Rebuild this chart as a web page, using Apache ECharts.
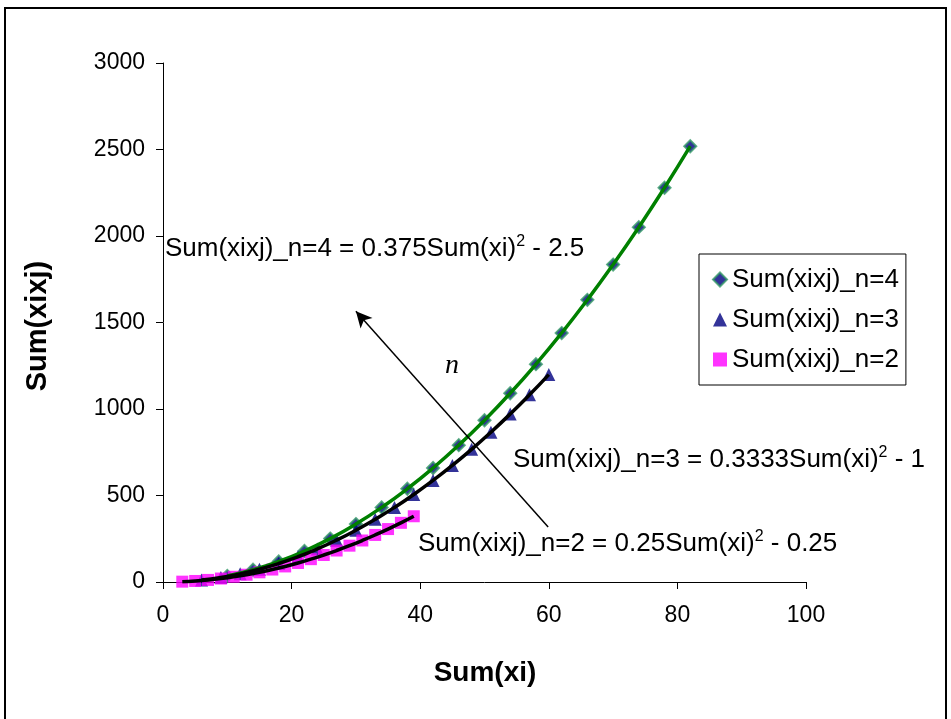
<!DOCTYPE html>
<html><head><meta charset="utf-8">
<script src="https://cdn.jsdelivr.net/npm/echarts@6/dist/echarts.min.js"></script>
<style>html,body{margin:0;padding:0;background:#fff}#c{width:951px;height:719px}</style>
</head><body><div id="c"></div>
<script>
// Data
var x_n2 = [3,5,7,9,11,13,15,17,19,21,23,25,27,29,31,33,35,37,39];
var y_n2 = [2,6,12,20,30,42,56,72,90,110,132,156,182,210,240,272,306,342,380];
var x_n3 = [6,9,12,15,18,21,24,27,30,33,36,39,42,45,48,51,54,57,60];
var y_n3 = [11,26,47,74,107,146,191,242,299,362,431,506,587,674,767,866,971,1082,1199];
var x_n4 = [10,14,18,22,26,30,34,38,42,46,50,54,58,62,66,70,74,78,82];
var y_n4 = [35,71,119,179,251,335,431,539,659,791,935,1091,1259,1439,1631,1835,2051,2279,2519];
var seriesNames = ['Sum(xixj)_n=4','Sum(xixj)_n=3','Sum(xixj)_n=2'];
var xTicks = [0,20,40,60,80,100];
var yTicks = [0,500,1000,1500,2000,2500,3000];

function pairs(xs, ys){ return xs.map(function(v,i){ return [v, ys[i]]; }); }

var FONT = 'Arial, "Liberation Sans", sans-serif';
var chart = echarts.init(document.getElementById('c'), null, {renderer:'canvas'});
var eqRich = {
  a: {fontFamily: FONT, fontSize: 26, color: '#000'},
  s: {fontFamily: FONT, fontSize: 16, color: '#000', padding: [0,0,13,0]}
};
var option = {
  animation: false,
  backgroundColor: '#fff',
  grid: {left: 163, right: 145, top: 63, bottom: 137},
  xAxis: {
    type: 'value', min: xTicks[0], max: xTicks[xTicks.length-1], interval: 20,
    axisLine: {lineStyle: {color: '#000', width: 1}},
    axisTick: {show: true, length: 7, lineStyle: {color: '#000'}},
    splitLine: {show: false},
    axisLabel: {fontFamily: FONT, fontSize: 23, color: '#000', margin: 22, formatter: function(v){ return String(v); }}
  },
  yAxis: {
    type: 'value', min: yTicks[0], max: yTicks[yTicks.length-1], interval: 500,
    axisLine: {show: true, lineStyle: {color: '#000', width: 1}},
    axisTick: {show: true, length: 7, lineStyle: {color: '#000'}},
    splitLine: {show: false},
    axisLabel: {fontFamily: FONT, fontSize: 23, color: '#000', margin: 18, formatter: function(v){ return String(v); }}
  },
  legend: {
    orient: 'vertical', left: 699, top: 254,
    data: seriesNames,
    padding: [11, 7, 11, 13],
    itemGap: 11, itemWidth: 14, itemHeight: 14,
    borderColor: '#000', borderWidth: 1, borderRadius: 0,
    backgroundColor: '#fff',
    textStyle: {fontFamily: FONT, fontSize: 26, color: '#000', lineHeight: 29}
  },
  series: [
    {name: seriesNames[0], type: 'scatter', data: pairs(x_n4, y_n4), symbol: 'diamond', symbolSize: 12,
     itemStyle: {color: '#000080', borderColor: '#339966', borderWidth: 2}, z: 3},
    {name: seriesNames[1], type: 'scatter', data: pairs(x_n3, y_n3), symbol: 'triangle', symbolSize: 13,
     itemStyle: {color: '#000080'}, z: 3},
    {name: seriesNames[2], type: 'scatter', data: pairs(x_n2, y_n2), symbol: 'rect', symbolSize: 12,
     itemStyle: {color: '#FF00FF'}, z: 3},
    {name: 'trend4', type: 'line', data: pairs(x_n4, y_n4), smooth: true, showSymbol: false, symbol: 'none',
     lineStyle: {color: '#008000', width: 3.5}, z: 4,
     markLine: {silent: true, symbol: ['none','arrow'], symbolSize: [12, 16],
       lineStyle: {color: '#000', width: 1.5, type: 'solid'}, label: {show: false},
       data: [[{coord: [59.9, 318]}, {coord: [30.0, 1565]}]]}},
    {name: 'trend3', type: 'line', data: pairs(x_n3, y_n3), smooth: true, showSymbol: false, symbol: 'none',
     lineStyle: {color: '#000', width: 3.5}, z: 4},
    {name: 'trend2', type: 'line', data: pairs(x_n2, y_n2), smooth: true, showSymbol: false, symbol: 'none',
     lineStyle: {color: '#000', width: 3.5}, z: 4}
  ],
  graphic: [
    {type: 'rect', shape: {x: 5, y: 8, width: 941, height: 720}, style: {fill: 'none', stroke: '#000', lineWidth: 2}, z: -1, silent: true},
    {type: 'text', left: 165, top: 234, style: {text: '{a|Sum(xixj)_n=4 = 0.375Sum(xi)}{s|2}{a| - 2.5}', rich: eqRich}},
    {type: 'text', left: 513, top: 445, style: {text: '{a|Sum(xixj)_n=3 = 0.3333Sum(xi)}{s|2}{a| - 1}', rich: eqRich}},
    {type: 'text', left: 418, top: 529, style: {text: '{a|Sum(xixj)_n=2 = 0.25Sum(xi)}{s|2}{a| - 0.25}', rich: eqRich}},
    {type: 'text', x: 452, y: 366, style: {text: 'n', font: 'italic 28px "Liberation Serif", "Times New Roman", serif', fill: '#000', textAlign: 'center', textVerticalAlign: 'middle'}},
    {type: 'text', x: 485, y: 673, style: {text: 'Sum(xi)', font: 'bold 28px Arial, "Liberation Sans", sans-serif', fill: '#000', textAlign: 'center', textVerticalAlign: 'middle'}},
    {type: 'text', x: 38, y: 326, rotation: Math.PI/2, style: {text: 'Sum(xixj)', font: 'bold 29px Arial, "Liberation Sans", sans-serif', fill: '#000', textAlign: 'center', textVerticalAlign: 'middle'}}
  ]
};
chart.setOption(option);
</script>
</body></html>
